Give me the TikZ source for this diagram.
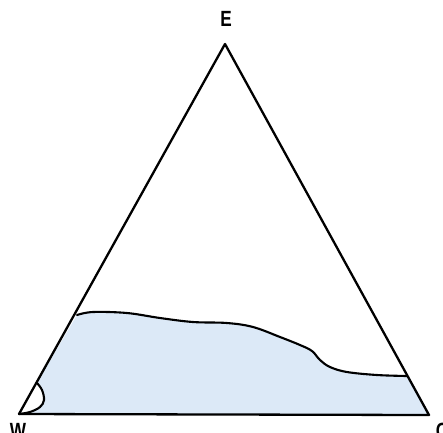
\documentclass[tikz,border=0pt]{standalone}
\usepackage{fontspec}
\setmainfont{Liberation Sans}
\begin{document}
\begin{tikzpicture}[x=1pt,y=-1pt,
  edge/.style={line width=2.3pt,line join=round,line cap=round},
  bound/.style={line width=2.1pt,line cap=round},
  lab/.style={font=\bfseries\fontsize{22}{22}\selectfont,inner sep=0pt,xscale=0.78,anchor=north}]
\definecolor{fillblue}{RGB}{220,233,247}
\useasboundingbox (0,0) rectangle (443,432);
\coordinate (W) at (19,414);
\coordinate (C) at (429,415);
\coordinate (E) at (225,44);
% blue region
\fill[fillblue] plot[smooth,tension=0.6] coordinates {(77,315) (93,312) (127,313) (160,318) (193,322) (227,323) (253,327) (280,337) (300,345) (312,351) (320,360) (330,367) (347,372) (377,375) (407,376)}
  -- (C) -- (W)
  -- plot[smooth,tension=0.6] coordinates {(19,414) (30,412) (40,407) (44,400) (42,390) (37,383)} -- cycle;
% boundaries
\draw[bound] plot[smooth,tension=0.6] coordinates {(77,315) (93,312) (127,313) (160,318) (193,322) (227,323) (253,327) (280,337) (300,345) (312,351) (320,360) (330,367) (347,372) (377,375) (407,376)};
\draw[bound] plot[smooth,tension=0.6] coordinates {(19,414) (30,412) (40,407) (44,400) (42,390) (37,383)};
% triangle
\draw[edge] (W) -- (E) -- (C) -- cycle;
% labels
\node[lab] (lE) at (226,11) {E};
\node[lab] (lW) at (18,423) {W};
\node[lab] (lC) at (442,423) {C};
\end{tikzpicture}
\end{document}
